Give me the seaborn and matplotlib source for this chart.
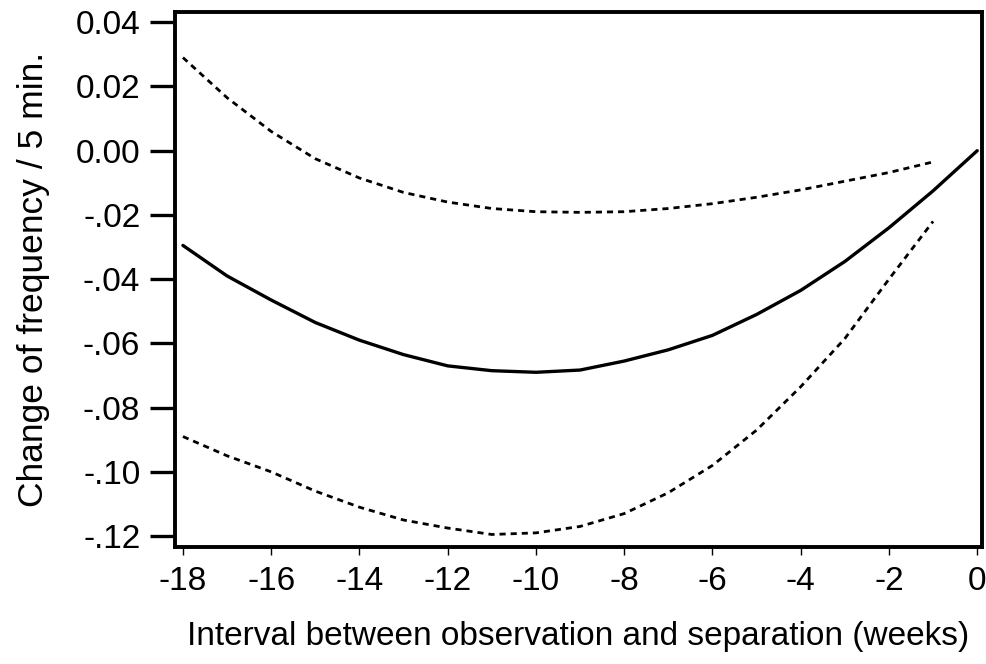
import matplotlib
matplotlib.use("Agg")
import matplotlib.pyplot as plt
import seaborn as sns
import pandas as pd

# ---- data ----
weeks = [-18, -17, -16, -15, -14, -13, -12, -11, -10, -9, -8, -7, -6, -5, -4, -3, -2, -1, 0]
estimate = [-0.0295, -0.0390, -0.0465, -0.0535, -0.0590, -0.0635, -0.0670, -0.0685, -0.0690,
            -0.0683, -0.0655, -0.0620, -0.0575, -0.0510, -0.0435, -0.0345, -0.0240, -0.0125, 0.0]
ci_weeks = [-18, -17, -16, -15, -14, -13, -12, -11, -10, -9, -8, -7, -6, -5, -4, -3, -2, -1]
upper = [0.0290, 0.0165, 0.0060, -0.0025, -0.0085, -0.0130, -0.0160, -0.0180, -0.0190,
         -0.0192, -0.0190, -0.0180, -0.0165, -0.0145, -0.0122, -0.0095, -0.0068, -0.0035]
lower = [-0.0890, -0.0950, -0.1000, -0.1060, -0.1110, -0.1150, -0.1175, -0.1195, -0.1190,
         -0.1170, -0.1130, -0.1065, -0.0980, -0.0870, -0.0735, -0.0585, -0.0400, -0.0220]

xtick_vals = [-18, -16, -14, -12, -10, -8, -6, -4, -2, 0]
xtick_labels = ["-18", "-16", "-14", "-12", "-10", "-8", "-6", "-4", "-2", "0"]
ytick_vals = [0.04, 0.02, 0.00, -0.02, -0.04, -0.06, -0.08, -0.10, -0.12]
ytick_labels = ["0.04", "0.02", "0.00", "-.02", "-.04", "-.06", "-.08", "-.10", "-.12"]

xlabel = "Interval between observation and separation (weeks)"
ylabel = "Change of frequency / 5 min."

df_est = pd.DataFrame({"week": weeks, "value": estimate})
df_up = pd.DataFrame({"week": ci_weeks, "value": upper})
df_lo = pd.DataFrame({"week": ci_weeks, "value": lower})

sns.set_style("ticks")
plt.rcParams["font.family"] = ["Liberation Sans", "DejaVu Sans"]
plt.rcParams["axes.unicode_minus"] = False

fig = plt.figure(figsize=(9.87, 6.64), dpi=100)
ax = fig.add_axes([0.1773, 0.1762, 0.8177, 0.8058])

dash = (0, (2.2, 1.8))
sns.lineplot(data=df_est, x="week", y="value", ax=ax, color="black", linewidth=2.4)
sns.lineplot(data=df_up, x="week", y="value", ax=ax, color="black", linewidth=2.0,
             linestyle=dash)
sns.lineplot(data=df_lo, x="week", y="value", ax=ax, color="black", linewidth=2.0,
             linestyle=dash)

ax.set_xlim(-18.18, 0.11)
ax.set_ylim(-0.1234, 0.0432)

ax.set_xticks(xtick_vals)
ax.set_xticklabels(xtick_labels)
ax.set_yticks(ytick_vals)
ax.set_yticklabels(ytick_labels)

for s in ax.spines.values():
    s.set_visible(True)
    s.set_linewidth(2.8)
    s.set_color("black")

ax.tick_params(axis="y", direction="out", length=18, width=2.4, pad=7,
               labelsize=24, colors="black")
ax.tick_params(axis="x", direction="out", length=6, width=1.0, pad=8,
               labelsize=24, colors="black")

ax.set_xlabel(xlabel, fontsize=24, labelpad=17, color="black")
ax.set_ylabel(ylabel, fontsize=25.5, labelpad=18.5, color="black")

fig.savefig("out.png", dpi=100, facecolor="white")
